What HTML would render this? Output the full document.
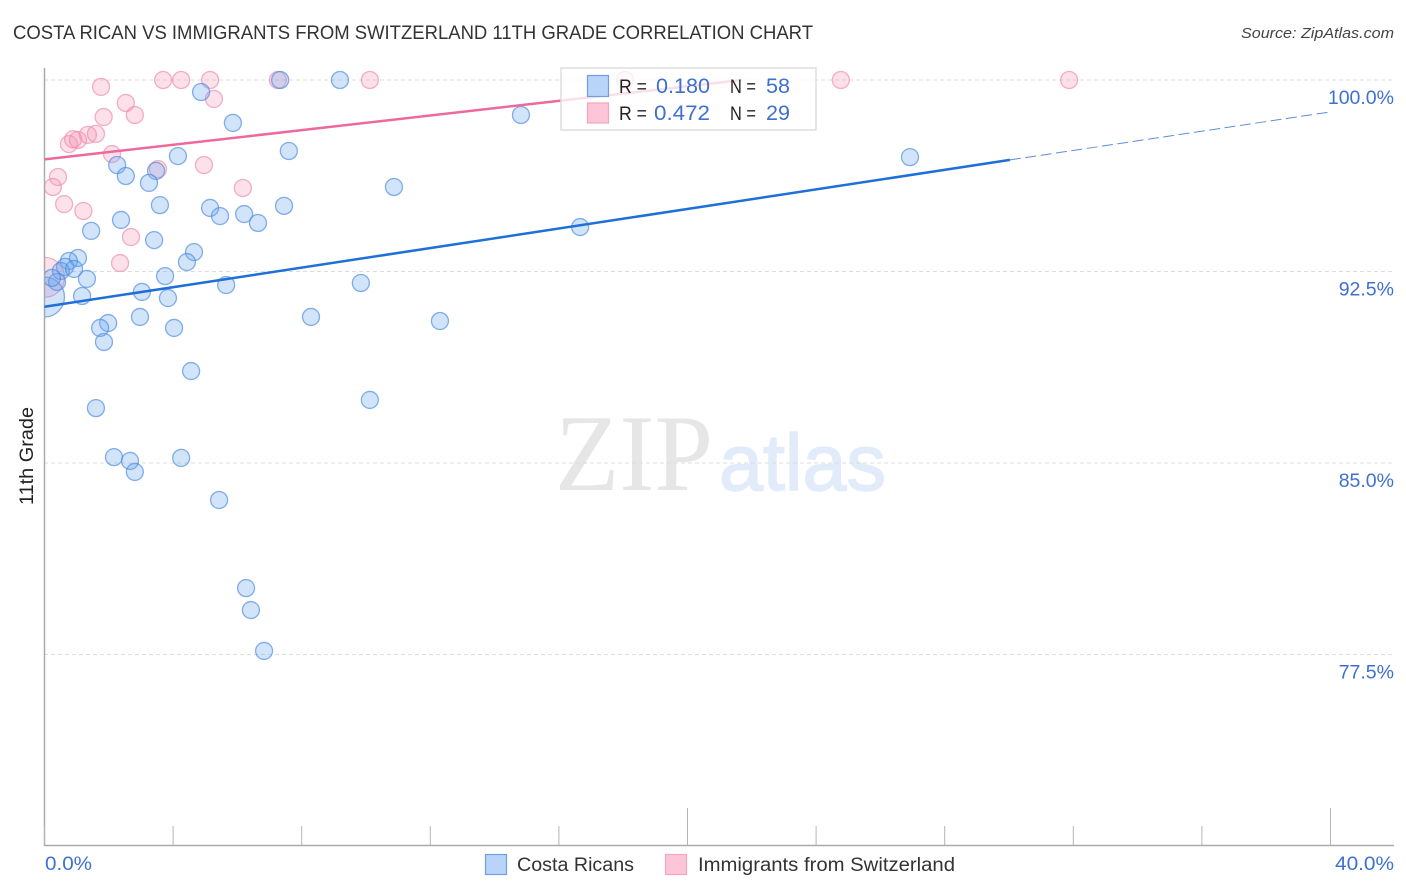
<!DOCTYPE html>
<html lang="en">
<head>
<meta charset="utf-8">
<title>Costa Rican vs Immigrants from Switzerland 11th Grade Correlation Chart</title>
<style>
html,body{margin:0;padding:0;background:#fff;width:1406px;height:892px;overflow:hidden}
svg{display:block;font-family:"Liberation Sans",sans-serif}
</style>
</head>
<body>
<svg id="chart" xmlns="http://www.w3.org/2000/svg" width="1406" height="892" viewBox="0 0 1406 892">
  <defs>
    <clipPath id="plot-clip"><rect x="45" y="60" width="1349" height="785"/></clipPath>
  </defs>
  <rect x="0" y="0" width="1406" height="892" fill="#ffffff"/>
  <text x="13" y="39" font-size="19" fill="#333" textLength="800" lengthAdjust="spacingAndGlyphs">COSTA RICAN VS IMMIGRANTS FROM SWITZERLAND 11TH GRADE CORRELATION CHART</text>
  <text x="1241" y="38" font-size="15" font-style="italic" fill="#444" textLength="153" lengthAdjust="spacingAndGlyphs">Source: ZipAtlas.com</text>
  <g>
    <text x="555" y="490" font-family="'Liberation Serif',serif" font-size="109" fill="#e6e6e6" textLength="158" lengthAdjust="spacingAndGlyphs">ZIP</text>
    <text x="719" y="490" font-size="80" fill="#e2ebf9" stroke="#e2ebf9" stroke-width="1.5" textLength="167" lengthAdjust="spacingAndGlyphs">atlas</text>
  </g>
  <g id="grid"></g>
  <g id="axes"></g>
  <g id="marks" clip-path="url(#plot-clip)"></g>
  <g id="trends"></g>
  <text transform="translate(33,456) rotate(-90)" text-anchor="middle" font-size="19" fill="#222" textLength="98" lengthAdjust="spacingAndGlyphs">11th Grade</text>
  <text x="45" y="870" font-size="19" fill="#3d70d0" textLength="47" lengthAdjust="spacingAndGlyphs">0.0%</text>
  <text x="1335" y="870" font-size="19" fill="#3d70d0" textLength="59" lengthAdjust="spacingAndGlyphs">40.0%</text>

  <g>
    <rect x="561" y="68" width="255" height="62" fill="#ffffff" fill-opacity="0.78" stroke="#dddddd" stroke-width="1.5"/>
    <rect x="587.5" y="75.5" width="21" height="21" fill="#b8d4f8" stroke="#6f9fe0" stroke-width="1.2"/>
    <rect x="587.5" y="103" width="21" height="20" fill="#fcc5d8" stroke="#f4a5c0" stroke-width="1.2"/>
    <text x="619" y="93" font-size="19" fill="#222" textLength="28" lengthAdjust="spacingAndGlyphs">R =</text>
    <text x="656" y="93" font-size="21" fill="#3d70d0" textLength="54" lengthAdjust="spacingAndGlyphs">0.180</text>
    <text x="730" y="93" font-size="19" fill="#222" textLength="26" lengthAdjust="spacingAndGlyphs">N =</text>
    <text x="766" y="93" font-size="21" fill="#3d70d0" textLength="24" lengthAdjust="spacingAndGlyphs">58</text>
    <text x="619" y="120" font-size="19" fill="#222" textLength="28" lengthAdjust="spacingAndGlyphs">R =</text>
    <text x="654" y="120" font-size="21" fill="#3d70d0" textLength="56" lengthAdjust="spacingAndGlyphs">0.472</text>
    <text x="730" y="120" font-size="19" fill="#222" textLength="26" lengthAdjust="spacingAndGlyphs">N =</text>
    <text x="766" y="120" font-size="21" fill="#3d70d0" textLength="24" lengthAdjust="spacingAndGlyphs">29</text>
  </g>

  <g>
    <rect x="485.5" y="854.5" width="21" height="20" fill="#b8d4f8" stroke="#6f9fe0" stroke-width="1.2"/>
    <text x="517" y="871" font-size="19" fill="#333" textLength="117" lengthAdjust="spacingAndGlyphs">Costa Ricans</text>
    <rect x="665.5" y="854.5" width="21" height="20" fill="#fcc5d8" stroke="#f4a5c0" stroke-width="1.2"/>
    <text x="698" y="871" font-size="19" fill="#333" textLength="257" lengthAdjust="spacingAndGlyphs">Immigrants from Switzerland</text>
  </g>
</svg>
<script>
// Chart data (percent units)
const yTicks = [100, 92.5, 85, 77.5];
const yTickLabels = ["100.0%", "92.5%", "85.0%", "77.5%"];
const xTicks = [0, 4, 8, 12, 16, 20, 24, 28, 32, 36, 40];
const xMajorTicks = [20, 40];

const costaRicanX = [7.33,9.19,4.87,5.86,14.82,7.60,4.15,26.92,2.26,2.53,3.47,3.25,10.87,3.59,5.15,7.45,5.46,6.21,6.64,2.38,16.66,1.45,3.41,4.65,4.43,1.04,0.76,0.64,0.51,0.92,1.32,3.75,0.39,0.23,5.65,9.84,1.17,3.03,3.84,8.29,12.30,2.97,1.98,1.73,4.03,1.85,4.56,10.12,1.60,2.16,2.66,4.25,2.81,5.43,6.27,6.42,6.83];
const costaRicanY = [100,100,99.53,98.32,98.63,97.22,97.02,96.98,96.67,96.24,96.44,95.97,95.81,95.10,94.99,95.07,94.67,94.75,94.40,94.52,94.24,94.09,93.73,93.26,92.87,93.03,92.91,92.68,92.52,92.60,92.21,92.32,92.09,92.25,91.97,92.05,91.54,91.70,91.46,90.72,90.56,90.72,90.48,90.29,90.29,89.74,88.60,87.47,87.15,85.23,85.08,85.20,84.65,83.55,80.10,79.24,77.64];
const costaRicanLargeX = [0];
const costaRicanLargeY = [91.50];

const switzerlandX = [3.69,4.25,5.15,7.26,10.12,18.06,24.77,31.87,1.76,2.53,2.81,5.27,1.84,1.60,1.35,1.04,0.89,0.76,2.10,4.96,3.53,6.17,0.42,0.26,0.61,1.21,2.69,2.35];
const switzerlandY = [100,100,100,100,100,100,100,100,99.73,99.10,98.63,99.26,98.55,97.89,97.85,97.65,97.68,97.49,97.10,96.67,96.51,95.77,96.20,95.81,95.14,94.87,93.85,92.83];
const switzerlandLargeX = [0];
const switzerlandLargeY = [92.27];

const costaRicanTrendX = [0, 30.03];
const costaRicanTrendY = [91.12, 96.87];
const costaRicanForecastX = [30.03, 40];
const costaRicanForecastY = [96.87, 98.75];
const switzerlandTrendX = [0, 21.7];
const switzerlandTrendY = [96.89, 100];

// Axis functions
const sx = v => 44.5 + v * 32.15;
const sy = v => 80 + (100 - v) * 25.533;
const NS = "http://www.w3.org/2000/svg";
const gridG = document.getElementById("grid");
const axesG = document.getElementById("axes");
const marksG = document.getElementById("marks");
const trendsG = document.getElementById("trends");

function make(tag, attrs, parent) {
  const el = document.createElementNS(NS, tag);
  for (const k in attrs) el.setAttribute(k, attrs[k]);
  parent.appendChild(el);
  return el;
}

yTicks.forEach((t, i) => {
  const line = make("line", {x1: 44, x2: 1394, y1: sy(t), y2: sy(t), stroke: "#dcdcdc", "stroke-width": 1, "stroke-dasharray": "4 3"}, gridG);
  
  
  const label = make("text", {x: 1394, y: sy(t) + 24, "text-anchor": "end", "font-size": 19.5, fill: "#3d70d0"}, axesG);
  label.textContent = yTickLabels[i];
  
  
});

const yAxis = make("line", {x1: 44.5, x2: 44.5, y1: 68, y2: 846, stroke: "#aaaaaa", "stroke-width": 1.5}, axesG);


const xAxis = make("line", {x1: 44, x2: 1394, y1: 845.5, y2: 845.5, stroke: "#aaaaaa", "stroke-width": 1.5}, axesG);



xTicks.forEach(t => {
  const top = xMajorTicks.includes(t) ? 808 : 826;
  const tick = make("line", {x1: sx(t), x2: sx(t), y1: top, y2: 845, stroke: "#b5b5b5", "stroke-width": 1}, axesG);
  
  
});

const pinkStyle = {fill: "#f48fb1", "fill-opacity": 0.27, stroke: "#ee8fae", "stroke-opacity": 0.7, "stroke-width": 1.3};
const blueStyle = {fill: "#6ba5ee", "fill-opacity": 0.3, stroke: "#4d8be0", "stroke-opacity": 0.68, "stroke-width": 1.3};

function drawDot(xVal, yVal, radius, style, parent) {
  return make("circle", Object.assign({cx: sx(xVal), cy: sy(yVal), r: radius}, style), parent);
}

switzerlandLargeX.forEach((x, i) => {
  const dot = drawDot(x, switzerlandLargeY[i], 20, pinkStyle, marksG);
  
  
});
costaRicanLargeX.forEach((x, i) => {
  const dot = drawDot(x, costaRicanLargeY[i], 20, blueStyle, marksG);
  
  
});
switzerlandX.forEach((x, i) => {
  const dot = drawDot(x, switzerlandY[i], 8.5, pinkStyle, marksG);
  
  
});
costaRicanX.forEach((x, i) => {
  const dot = drawDot(x, costaRicanY[i], 8.5, blueStyle, marksG);
  
  
});

function drawLine(xs, ys, attrs) {
  return make("line", Object.assign({x1: sx(xs[0]), y1: sy(ys[0]), x2: sx(xs[1]), y2: sy(ys[1])}, attrs), trendsG);
}

const blueTrend = drawLine(costaRicanTrendX, costaRicanTrendY, {stroke: "#1f6fd8", "stroke-width": 2.5});


const blueForecast = drawLine(costaRicanForecastX, costaRicanForecastY, {stroke: "#5a90d8", "stroke-width": 1, "stroke-dasharray": "11 4.5"});


const pinkTrend = drawLine(switzerlandTrendX, switzerlandTrendY, {stroke: "#ec6a9b", "stroke-width": 2.5});


</script>
</body>
</html>
